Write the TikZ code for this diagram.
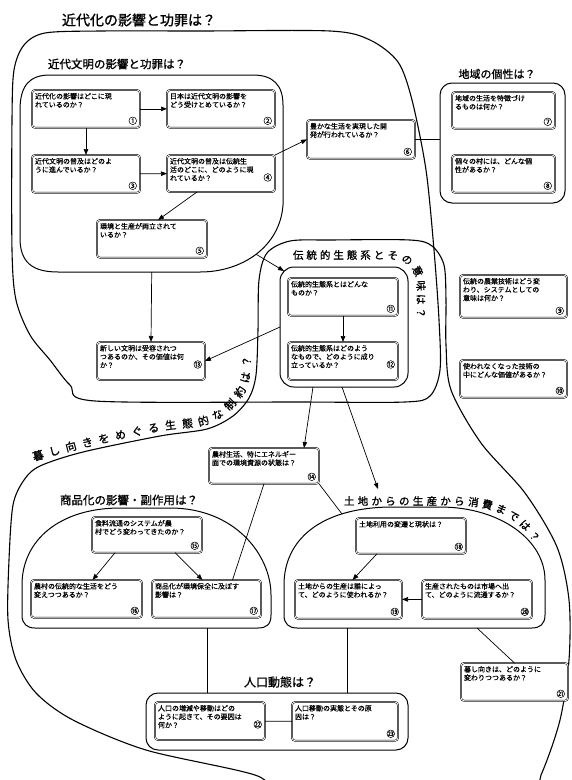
\documentclass[tikz,border=0pt]{standalone}
\usepackage{fontspec}
\setmainfont{Noto Sans CJK JP}
\newfontfamily\headfont[FakeBold=1.2]{Noto Sans CJK JP}
\newfontfamily\boxfont[FakeBold=0.4]{Noto Sans CJK JP}
\usetikzlibrary{arrows.meta,decorations.text}

% circled question number
\newcommand\qn[1]{{\fontsize{8.5}{8.5}\selectfont #1}}
% question box: text top left, circled number bottom right
\newcommand\qtxt[3]{\parbox[c][\dimexpr#2pt-6pt\relax][s]{\dimexpr#1pt-6pt\relax}{\boxfont\fontsize{7}{8.4}\selectfont\raggedright #3}}
% \qnode{name}{x}{y}{width}{height}{text}
\newcommand\qnode[6]{\node[qbox,anchor=north west] (#1) at (#2,#3) {\qtxt{#4}{#5}{#6}};}

\begin{document}
\begin{tikzpicture}[x=1pt,y=-1pt,
  qbox/.style={draw,double,double distance=0.8pt,line width=0.5pt,rounded corners=3pt,
               inner sep=3pt,outer sep=0pt,fill=white},
  frm/.style={draw,line width=1pt,rounded corners=12pt,inner sep=0pt,outer sep=0pt},
  frmline/.style={line width=1pt},
  blob/.style={line width=1.1pt},
  conn/.style={line width=0.7pt},
  arr/.style={line width=0.7pt,-{Triangle[length=6pt,width=4.5pt]}},
  ttl/.style={font=\headfont\fontsize{11.5}{11.5}\selectfont,inner sep=0pt}]

\useasboundingbox (0,0) rectangle (571,780);
\fill[white] (0,0) rectangle (571,780);

% ---- the two large regions ----
\begin{scope}
\clip (0,0) rectangle (571,780);
% lower region: livelihood
\draw[blob] plot[smooth cycle, tension=0.5] coordinates {
  (9,560) (13,505) (24,480) (40,466) (83,452) (160,436) (207,429) (233,416)
  (249,398) (256,375) (258,330) (259,280) (267,253) (290,241) (330,240) (410,240)
  (432,246) (444,265) (446,300) (446,345) (451,390) (481,443) (525,493) (557,547)
  (569,600) (569,660) (560,720) (541,775) (520,810) (300,800) (255,775) (146,750)
  (73,720) (36,693) (16,660) (8,620)};
% upper region: modernisation
\draw[blob] plot[smooth cycle, tension=0.5] coordinates {
  (12,120) (14,70) (24,45) (45,33) (100,31) (200,31) (330,31) (370,40) (398,62)
  (412,100) (426,170) (434,250) (439,320) (440,370) (430,396) (405,402) (300,402)
  (95,401) (70,385) (50,360) (30,335) (16,300) (12,250)};
\end{scope}

% ---- titles ----
\node[font=\headfont\fontsize{14}{14}\selectfont,inner sep=0pt] (ttop) at (139,20) {近代化の影響と功罪は？};
\node[ttl] (tkindai) at (117,64) {近代文明の影響と功罪は？};
\node[ttl,font=\headfont\fontsize{11}{11}\selectfont] (tchiiki) at (497,74) {地域の個性は？};
\node[ttl] (tshohin) at (129,500) {商品化の影響・副作用は？};
\node[ttl,font=\headfont\fontsize{12}{12}\selectfont] (tjinko) at (280,682) {人口動態は？};

\path[decorate,decoration={text along path,text align={fit to path},
  text={|\headfont\fontsize{11}{11}\selectfont|暮し向きをめぐる生態的な制約は？}}]
  plot[smooth,tension=0.6] coordinates {(34,461) (82,448) (159,431) (204,425) (228,412) (244,393) (250,375) (251,356)};
\path[decorate,decoration={text along path,text align={fit to path},
  text={|\headfont\fontsize{10.5}{10.5}\selectfont|伝統的生態系とその意味は？}}]
  (293,259) -- (388,259) .. controls (406,259) and (417,268) .. (417,288) -- (417,318);
\path[decorate,decoration={text along path,text align={fit to path},
  text={|\headfont\fontsize{10.5}{10.5}\selectfont|土地からの生産から消費までは？}}]
  (344,505) -- (455,505) .. controls (485,505) and (515,512) .. (534,543);

% ---- group frames ----
\draw[frmline] (20,110) -- (20,238) .. controls (20,262) and (32,272) .. (58,272)
  -- (200,272) coordinate[pos=0.66] (nfb)
  .. controls (242,272) and (280,247) .. (283,205) coordinate[pos=0.5] (nfa)
  -- (283,105) .. controls (283,85) and (273,75) .. (253,75)
  -- (50,75) .. controls (30,75) and (20,85) .. (20,110) -- cycle;
\node[frm,minimum width=125pt,minimum height=120pt,anchor=north west] (chiiki) at (440,83) {};
\node[frm,rounded corners=14pt,minimum width=128pt,minimum height=120pt,anchor=north west] (trad) at (280,267) {};
\draw[frmline] (22,615) -- (22,585) .. controls (22,540) and (60,508) .. (120,508)
  -- (170,508) .. controls (235,508) and (271,555) .. (271,595) -- (271,615)
  .. controls (271,625) and (266,628) .. (258,628) -- (35,628) coordinate[pos=0.229] (shohinbot)
  .. controls (27,628) and (22,624) .. (22,615) -- cycle;
\draw[frmline] (284,615) -- (284,585) .. controls (284,540) and (320,508) .. (390,507)
  -- (440,507) .. controls (500,507) and (545,540) .. (545,580) -- (545,615)
  .. controls (545,624) and (540,628) .. (532,628) -- (297,628) coordinate[pos=0.787] (tochibot)
  coordinate[pos=0.234] (tochibr)
  .. controls (289,628) and (284,624) .. (284,615) -- cycle;
\node[frm,minimum width=262pt,minimum height=57pt,anchor=north west] (jinko) at (146,693) {};
\coordinate (tochiin) at (378,489);
\coordinate (tochitop) at (342,514);

% ---- question boxes ----
\qnode{b1}{32}{90}{108}{37}{近代化の影響はどこに現\\れているのか？\par\vfill\hfill\qn{①}}
\qnode{b2}{167}{90}{108}{37}{日本は近代文明の影響を\\どう受けとめているか？\par\vfill\hfill\qn{②}}
\qnode{b3}{32}{155}{108}{37}{近代文明の普及はどのよ\\うに進んでいるか？\par\vfill\hfill\qn{③}}
\qnode{b4}{167}{155}{108}{37}{近代文明の普及は伝統生\\活のどこに、どのように現\\れているか？\hfill\qn{④}\vfill}
\qnode{b5}{97}{220}{110}{37}{環境と生産が両立されて\\いるか？\par\vfill\hfill\qn{⑤}}
\qnode{b6}{307}{120}{108}{38}{豊かな生活を実現した開\\発が行われているか？\par\vfill\hfill\qn{⑥}}
\qnode{b7}{452}{92}{103}{36}{地域の生活を特徴づけ\\るものは何か？\par\vfill\hfill\qn{⑦}}
\qnode{b8}{452}{155}{103}{37}{個々の村には、どんな個\\性があるか？\par\vfill\hfill\qn{⑧}}
\qnode{b9}{460}{275}{107}{42}{伝統の農業技術はどう変\\わり、システムとしての\\意味は何か？\par\vfill\hfill\qn{⑨}}
\qnode{b10}{460}{360}{107}{37}{使われなくなった技術の\\中にどんな価値があるか？\par\vfill\hfill\qn{⑩}}
\qnode{b11}{288}{278}{110}{37}{伝統的生態系とはどんな\\ものか？\par\vfill\hfill\qn{⑪}}
\qnode{b12}{288}{342}{110}{38}{伝統的生態系はどのよう\\なもので、どのように成り\\立っているか？\hfill\qn{⑫}\vfill}
\qnode{b13}{97}{342}{108}{38}{新しい文明は受容されつ\\つあるのか、その価値は何\\か？\hfill\qn{⑬}\vfill}
\qnode{b14}{209}{448}{110}{35}{農村生活、特にエネルギー\\面での環境資源の状態は？\par\vfill\hfill\qn{⑭}}
\qnode{b15}{92}{517}{110}{35}{食料流通のシステムが農\\村でどう変わってきたのか？\par\vfill\hfill\qn{⑮}}
\qnode{b16}{31}{580}{111}{37}{農村の伝統的な生活をどう\\変えつつあるか？\par\vfill\hfill\qn{⑯}}
\qnode{b17}{152}{580}{109}{37}{商品化が環境保全に及ぼす\\影響は？\par\vfill\hfill\qn{⑰}}
\qnode{b18}{356}{518}{110}{35}{土地利用の変遷と現状は？\par\vfill\hfill\qn{⑱}}
\qnode{b19}{295}{580}{107}{38}{土地からの生産は誰によっ\\て、どのように使われるか？\par\vfill\hfill\qn{⑲}}
\qnode{b20}{422}{580}{110}{38}{生産されたものは市場へ出\\て、どのように流通するか？\par\vfill\hfill\qn{⑳}}
\qnode{b21}{461}{663}{107}{37}{暮し向きは、どのように\\変わりつつあるか？\par\vfill\hfill\qn{㉑}}
\qnode{b22}{155}{702}{110}{38}{人口の増減や移動はどの\\ように起きて、その要因は\\何か？\hfill\qn{㉒}\vfill}
\qnode{b23}{292}{702}{106}{38}{人口移動の実態とその原\\因は？\par\vfill\hfill\qn{㉓}}

% ---- connectors ----
\draw[arr] (b1) -- (b2);
\draw[arr] (b1) -- (b3);
\draw[arr] (b3) -- (b4);
\draw[arr] ([xshift=-24pt]b4.south) -- ([xshift=6pt]b5.north);
\draw[arr] (b4.north east) -- (b6.west);
\draw[conn] (b6.east) -- (b6.east -| chiiki.west);
\draw[arr] (nfa) -- ([shift={(4pt,-4pt)}]trad.north west);
\draw[arr] (nfb) -- (b13.north);
\draw[arr] (trad.west) -- (b13.east);
\draw[arr] (b11) -- (b12);
\draw[arr] ([xshift=-31pt]trad.south) -- ([xshift=40pt]b14.north);
\draw[arr] ([xshift=-2pt]trad.south) -- (tochiin);
\draw[conn] (b14.south) -- ([xshift=26pt]b17.north);
\draw[conn] (b14.south east) -- (tochitop);
\draw[arr] ([xshift=-32pt]b15.south) -- ([xshift=6pt]b16.north);
\draw[arr] ([xshift=28pt]b15.south) -- ([xshift=-4pt]b17.north);
\draw[arr] ([xshift=-34pt]b18.south) -- ([xshift=4pt]b19.north);
\draw[arr] (b20) -- (b19);
\draw[conn] (shohinbot) -- (shohinbot |- jinko.north);
\draw[conn] (tochibot) -- (tochibot |- jinko.north);
\draw[conn] (tochibr) -- (b21.north);
\draw[conn] (b22) -- (b23);
\end{tikzpicture}
\end{document}
